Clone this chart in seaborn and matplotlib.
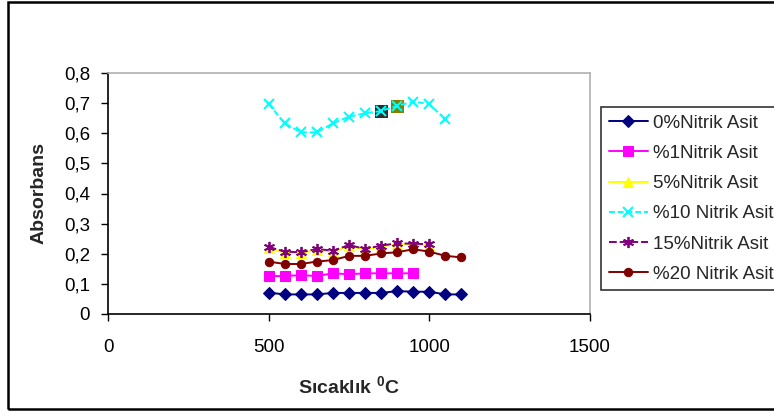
import matplotlib
matplotlib.use("Agg")
import matplotlib.pyplot as plt
from matplotlib.patches import Rectangle
import seaborn as sns

sns.set_style("white")
plt.rcParams["font.family"] = ["Liberation Sans", "DejaVu Sans"]
plt.rcParams["mathtext.fontset"] = "custom"
plt.rcParams["mathtext.rm"] = "Liberation Sans"
plt.rcParams["mathtext.bf"] = "Liberation Sans:bold"

# Temperatures (°C) for each series
temp_0 = [500, 550, 600, 650, 700, 750, 800, 850, 900, 950, 1000, 1050, 1100]
temp_1 = [500, 550, 600, 650, 700, 750, 800, 850, 900, 950]
temp_5 = [500, 550, 600, 650, 700, 750, 800, 850, 900, 950, 1000]
temp_10 = [500, 550, 600, 650, 700, 750, 800, 850, 900, 950, 1000, 1050]
temp_15 = [500, 550, 600, 650, 700, 750, 800, 850, 900, 950, 1000]
temp_20 = [500, 550, 600, 650, 700, 750, 800, 850, 900, 950, 1000, 1050, 1100]

# Absorbance values
abs_0 = [0.071, 0.065, 0.065, 0.065, 0.070, 0.070, 0.070, 0.070, 0.076, 0.074, 0.074, 0.065, 0.065]
abs_1 = [0.126, 0.126, 0.129, 0.126, 0.135, 0.132, 0.135, 0.135, 0.135, 0.135]
abs_5 = [0.220, 0.203, 0.202, 0.213, 0.206, 0.226, 0.213, 0.224, 0.232, 0.230, 0.229]
abs_10 = [0.697, 0.633, 0.603, 0.603, 0.633, 0.655, 0.666, 0.674, 0.691, 0.705, 0.697, 0.646]
abs_15 = [0.223, 0.207, 0.205, 0.216, 0.210, 0.229, 0.216, 0.227, 0.235, 0.233, 0.232]
abs_20 = [0.174, 0.166, 0.166, 0.174, 0.179, 0.193, 0.193, 0.201, 0.205, 0.215, 0.207, 0.193, 0.188]

labels = ["0%Nitrik Asit", "%1Nitrik Asit", "5%Nitrik Asit",
          "%10 Nitrik Asit", "15%Nitrik Asit", "%20 Nitrik Asit"]

x_ticks = [0, 500, 1000, 1500]
y_ticks = [0, 0.1, 0.2, 0.3, 0.4, 0.5, 0.6, 0.7, 0.8]
y_tick_labels = ["0", "0,1", "0,2", "0,3", "0,4", "0,5", "0,6", "0,7", "0,8"]

# Highlighted points of the 10% series (indices into temp_10 / abs_10)
highlight_idx = [7, 8]
highlight_colors = ["#2e2e2e", "#808000"]

W, H = 774, 412
fig = plt.figure(figsize=(W / 100, H / 100), dpi=100)
ax = fig.add_axes([108 / W, 1 - 314 / H, (590 - 108) / W, (314 - 73) / H])

series = [
    (temp_0, abs_0, dict(color="#000080", marker="D", markersize=6, linestyle="-")),
    (temp_1, abs_1, dict(color="#ff00ff", marker="s", markersize=6.5, linestyle="-")),
    (temp_5, abs_5, dict(color="#ffff00", marker="^", markersize=7, linestyle="-")),
    (temp_10, abs_10, dict(color="#00ffff", marker="x", markersize=7, markeredgewidth=1.5,
                           linestyle=(0, (3, 1.5)))),
    (temp_15, abs_15, dict(color="#800080", marker=(6, 2, 0), markersize=8, markeredgewidth=1.3,
                           linestyle=(0, (4, 1.5)))),
    (temp_20, abs_20, dict(color="#800000", marker="o", markersize=6, linestyle="-")),
]

# Highlight squares behind the 10% markers
for i, c in zip(highlight_idx, highlight_colors):
    sns.scatterplot(x=[temp_10[i]], y=[abs_10[i]], marker="s", s=85, color=c,
                    edgecolor=c, ax=ax, zorder=2, legend=False)

for (xs, ys, kw), lab in zip(series, labels):
    sns.lineplot(x=xs, y=ys, ax=ax, label=lab, linewidth=1.4,
                 markeredgecolor=kw["color"], zorder=3, **kw)

ax.set_xlim(0, 1500)
ax.set_ylim(0, 0.8)
ax.set_xticks(x_ticks)
ax.set_xticklabels([str(v) for v in x_ticks])
ax.set_yticks(y_ticks)
ax.set_yticklabels(y_tick_labels)
ax.tick_params(axis="both", direction="out", length=5, width=1, colors="black",
               labelsize=13.5)
ax.tick_params(axis="x", pad=13)
ax.tick_params(axis="y", pad=8)
ax.tick_params(bottom=True, left=True)

for s in ["left", "bottom"]:
    ax.spines[s].set_color("black")
    ax.spines[s].set_linewidth(1.2)
for s in ["top", "right"]:
    ax.spines[s].set_color("#b0b0b0")
    ax.spines[s].set_linewidth(1.2)

ax.set_xlabel(r"Sıcaklık $^{\mathbf{0}}$C", fontsize=14, fontweight="bold", labelpad=14)
ax.set_ylabel("Absorbans", fontsize=14, fontweight="bold", labelpad=12)

handles, labs = ax.get_legend_handles_labels()
ax.get_legend().remove()
leg = fig.legend(handles, labs, loc="upper left", bbox_to_anchor=(601 / W, 1 - 107 / H),
                 fontsize=13.5, frameon=True, fancybox=False, edgecolor="black",
                 labelspacing=0.7, handlelength=2.1, handletextpad=0.25,
                 borderpad=0.4, borderaxespad=0)
leg.get_frame().set_linewidth(1.2)

# Chart-area border
fig.add_artist(Rectangle((8 / W, 3 / H), 1.2, (408 - 1) / H, transform=fig.transFigure,
                         fill=False, edgecolor="black", linewidth=1.8, clip_on=False))

fig.savefig("out.png", dpi=100)
